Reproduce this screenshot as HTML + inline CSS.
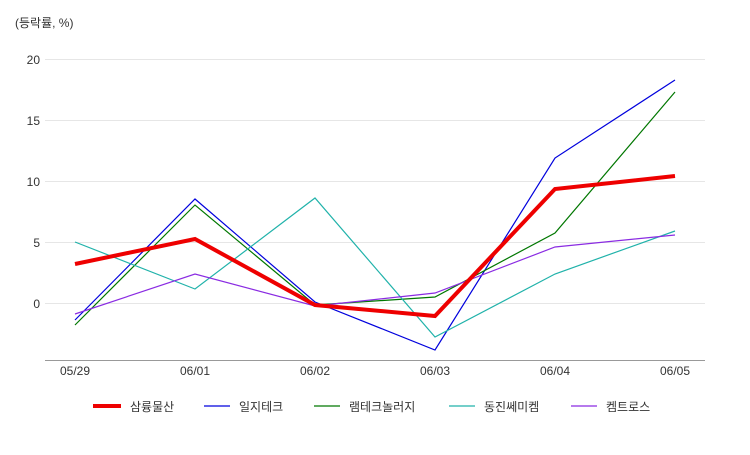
<!DOCTYPE html>
<html><head><meta charset="utf-8"><style>
body{margin:0;background:#fff;}
svg text{font-family:"Liberation Sans","Noto Sans CJK KR",sans-serif;}
</style></head><body>
<svg width="750" height="450" xmlns="http://www.w3.org/2000/svg">
<text x="15" y="27" font-size="12" fill="#333">(등락률, %)</text>
<g stroke="#e6e6e6" stroke-width="1">
<line x1="45" x2="705" y1="59.5" y2="59.5"/>
<line x1="45" x2="705" y1="120.5" y2="120.5"/>
<line x1="45" x2="705" y1="181.5" y2="181.5"/>
<line x1="45" x2="705" y1="242.5" y2="242.5"/>
<line x1="45" x2="705" y1="303.5" y2="303.5"/>
</g>
<line x1="45" x2="705" y1="360.5" y2="360.5" stroke="#999"/>
<g font-size="12" fill="#333" text-anchor="end">
<text x="40" y="64">20</text><text x="40" y="125">15</text><text x="40" y="186">10</text><text x="40" y="247">5</text><text x="40" y="308">0</text>
</g>
<g font-size="12" fill="#333" text-anchor="middle">
<text x="75" y="375">05/29</text><text x="195" y="375">06/01</text><text x="315" y="375">06/02</text><text x="435" y="375">06/03</text><text x="555" y="375">06/04</text><text x="675" y="375">06/05</text>
</g>
<g fill="none" stroke-width="1.2">
<polyline stroke="#0000dd" points="75,320 195,199 315,302 435,350 555,158 675,80"/>
<polyline stroke="#007700" points="75,325 195,205 315,305 435,297 555,233 675,92"/>
<polyline stroke="#20b2aa" points="75,242 195,289 315,198 435,337 555,274 675,231"/>
<polyline stroke="#8a2be2" points="75,314 195,274 315,306 435,293 555,247 675,235"/>
<polyline stroke="#ee0000" stroke-width="4" points="75,264 195,239 315,305 435,316 555,189 675,176"/>
</g>
<g font-size="12" fill="#333">
<line x1="93" x2="121" y1="406" y2="406" stroke="#ee0000" stroke-width="4"/><text x="130" y="411">삼륭물산</text>
<line x1="204" x2="230" y1="406" y2="406" stroke="#0000dd" stroke-width="1.2"/><text x="239" y="411">일지테크</text>
<line x1="314" x2="340" y1="406" y2="406" stroke="#007700" stroke-width="1.2"/><text x="349" y="411">램테크놀러지</text>
<line x1="449" x2="475" y1="406" y2="406" stroke="#20b2aa" stroke-width="1.2"/><text x="484" y="411">동진쎄미켐</text>
<line x1="571" x2="597" y1="406" y2="406" stroke="#8a2be2" stroke-width="1.2"/><text x="606" y="411">켐트로스</text>
</g>
</svg>
</body></html>
